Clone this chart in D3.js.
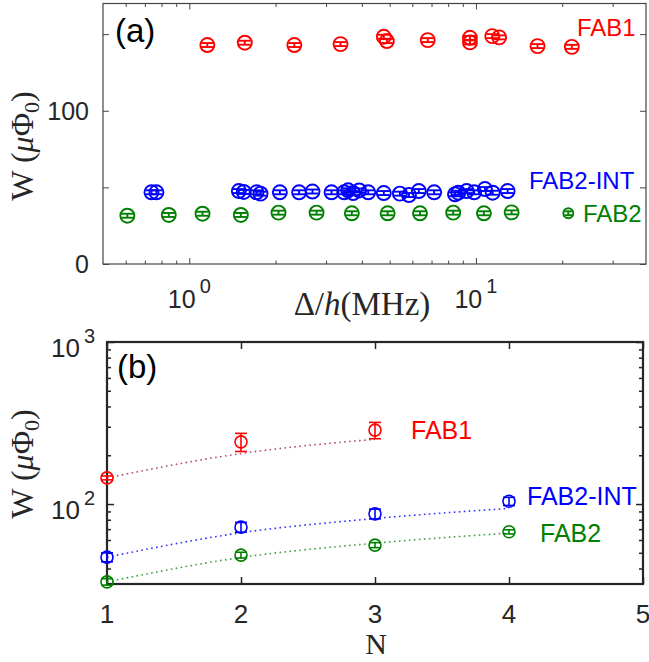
<!DOCTYPE html>
<html>
<head>
<meta charset="utf-8">
<script src="https://cdn.jsdelivr.net/npm/d3@7"></script>
<style>
  body { margin: 0; background: #fff; }
  svg { display: block; }
  .sans { font-family: "Liberation Sans", Arial, Helvetica, sans-serif; }
  .serif { font-family: "Liberation Serif", "Times New Roman", serif; }
</style>
</head>
<body>
<svg id="chart" width="649" height="662"></svg>
<script>
// ---- panel (a): W vs Delta/h ----
const aFab1Freq = [1.156, 1.562, 2.325, 3.37, 4.77, 4.89, 6.79, 9.53, 9.53, 11.4, 12.05, 16.4, 21.6];
const aFab1W    = [142.9, 144.4, 142.9, 143.5, 148.3, 145.5, 146.1, 147.6, 144.6, 148.7, 147.9, 142.2, 141.7];

const aIntFreq = [0.738, 0.768, 1.489, 1.549, 1.717, 1.772, 2.07, 2.416, 2.69, 3.135, 3.47, 3.584, 3.73, 3.914,
                  4.21, 4.77, 5.43, 5.84, 6.32, 7.15, 8.45, 8.68, 9.28, 9.86, 10.75, 11.44, 12.9];
const aIntW    = [46.8, 46.8, 47.6, 47.0, 46.8, 45.9, 46.8, 46.8, 47.3, 46.8, 46.8, 48.1, 46.3, 48.0,
                  46.8, 46.3, 45.9, 45.0, 47.6, 46.8, 45.5, 46.5, 47.6, 46.8, 48.9, 46.5, 47.6];

const aFab2Freq = [0.608, 0.848, 1.112, 1.513, 2.048, 2.78, 3.69, 4.92, 6.38, 8.33, 10.66, 13.32, 21.0];
const aFab2W    = [31.5, 32.0, 32.8, 32.0, 33.5, 33.5, 33.1, 33.1, 33.1, 33.5, 33.1, 33.7, 33.1];
const aErr = 1.3;

const aYTicks = [0, 50, 100, 150];
const aYLabels = [0, 100];
const aXMajor = [1, 10];
const aXMinor = [0.6, 0.7, 0.8, 0.9, 2, 3, 4, 5, 6, 7, 8, 9, 20, 30];

// ---- panel (b): W vs N ----
const nValues = [1, 2, 3, 4];
const bFab1W   = [145, 242, 286];
const bFab1Err = [4, 31, 33];
const bFab1Fit = [145, 205, 251];
const bIntW    = [47, 72, 87, 104];
const bIntErr  = [3, 5, 6, 6];
const bIntFit  = [47, 66.5, 81.4, 94];
const bFab2W   = [33.1, 48.4, 55.8, 67.4];
const bFab2Err = [1.5, 2, 2, 2];
const bFab2Fit = [33.1, 46.8, 57.3, 66.2];

const bXTicks = [1, 2, 3, 4, 5];
const bYMajor = [100, 1000];
const bYMinor = [40, 50, 60, 70, 80, 90, 200, 300, 400, 500, 600, 700, 800, 900];

const RED = "#ff0000", BLUE = "#0000ff", GREEN = "#008000";
const AXIS = "#262626";

const svg = d3.select("#chart");

// ===== panel (a) =====
const xA = d3.scaleLog().domain([0.5, 39.2]).range([103, 646]);
const yA = d3.scaleLinear().domain([0, 170]).range([264, 3.5]);
const gA = svg.append("g");

function tickAxis(g, axis, transform, color, width) {
  const a = g.append("g").attr("transform", transform).call(axis);
  a.selectAll("text").remove();
  a.select(".domain").remove();
  a.selectAll("line").attr("stroke", color).attr("stroke-width", width);
  return a;
}

// inward ticks, bottom and top
tickAxis(gA, d3.axisBottom(xA).tickValues(aXMajor).tickSizeInner(-6).tickSizeOuter(0), "translate(0,264)", "#444", 1);
tickAxis(gA, d3.axisBottom(xA).tickValues(aXMinor).tickSizeInner(-3.5).tickSizeOuter(0), "translate(0,264)", "#444", 1);
tickAxis(gA, d3.axisTop(xA).tickValues(aXMajor).tickSizeInner(-6).tickSizeOuter(0), "translate(0,3.5)", "#444", 1);
tickAxis(gA, d3.axisTop(xA).tickValues(aXMinor).tickSizeInner(-3.5).tickSizeOuter(0), "translate(0,3.5)", "#444", 1);
tickAxis(gA, d3.axisLeft(yA).tickValues(aYTicks).tickSizeInner(-6).tickSizeOuter(0), "translate(103,0)", "#444", 1);
tickAxis(gA, d3.axisRight(yA).tickValues(aYTicks).tickSizeInner(-6).tickSizeOuter(0), "translate(646,0)", "#444", 1);

gA.append("rect")
  .attr("x", xA.range()[0]).attr("y", yA.range()[1])
  .attr("width", xA.range()[1] - xA.range()[0])
  .attr("height", yA.range()[0] - yA.range()[1])
  .attr("fill", "none").attr("stroke", "#444").attr("stroke-width", 1.2);

// y tick labels
gA.selectAll(".ylab").data(aYLabels).enter().append("text")
  .attr("class", "sans")
  .attr("x", 89).attr("y", d => yA(d)).attr("dy", "0.36em")
  .attr("text-anchor", "end").attr("font-size", 25).attr("fill", AXIS)
  .text(d => d);

// x tick labels 10^n
aXMajor.forEach(v => {
  const t = gA.append("text").attr("class", "sans")
    .attr("x", xA(v)).attr("y", 308).attr("text-anchor", "middle")
    .attr("font-size", 25).attr("fill", AXIS);
  t.append("tspan").text("10");
  t.append("tspan").attr("dx", 4).attr("dy", -15).attr("font-size", 20).text(Math.round(Math.log10(v)));
});

// x axis label
{
  const t = gA.append("text").attr("class", "serif")
    .attr("x", 362).attr("y", 315).attr("text-anchor", "middle")
    .attr("font-size", 33).attr("fill", AXIS);
  t.append("tspan").text("\u0394/");
  t.append("tspan").attr("font-style", "italic").text("h");
  t.append("tspan").text("(MHz)");
}

function yLabel(g, cx, cy) {
  const t = g.append("text").attr("class", "serif")
    .attr("transform", `translate(${cx},${cy}) rotate(-90)`)
    .attr("text-anchor", "middle").attr("font-size", 32).attr("fill", AXIS);
  t.append("tspan").text("W (");
  t.append("tspan").attr("font-style", "italic").text("\u03bc");
  t.append("tspan").text("\u03a6");
  t.append("tspan").attr("font-size", 22).attr("dy", 6).text("0");
  t.append("tspan").attr("dy", -6).text(")");
}
yLabel(gA, 33, 146);

function drawSeriesA(xs, ys, color, smallLast) {
  const pts = xs.map((x, i) => ({ x, y: ys[i], small: smallLast && i === xs.length - 1 }));
  const g = gA.append("g").attr("stroke", color).attr("fill", "none").attr("stroke-width", 1.9);
  pts.forEach(p => {
    const cx = xA(p.x), r = p.small ? 5 : 7, cw = p.small ? 4 : 6;
    g.append("circle").attr("cx", cx).attr("cy", yA(p.y)).attr("r", r);
    g.append("line").attr("x1", cx).attr("x2", cx).attr("y1", yA(p.y - aErr)).attr("y2", yA(p.y + aErr));
    g.append("line").attr("x1", cx - cw).attr("x2", cx + cw).attr("y1", yA(p.y - aErr)).attr("y2", yA(p.y - aErr));
    g.append("line").attr("x1", cx - cw).attr("x2", cx + cw).attr("y1", yA(p.y + aErr)).attr("y2", yA(p.y + aErr));
  });
}
drawSeriesA(aFab1Freq, aFab1W, RED, false);
drawSeriesA(aIntFreq, aIntW, BLUE, false);
drawSeriesA(aFab2Freq, aFab2W, GREEN, true);

gA.append("text").attr("class", "sans").attr("x", 115).attr("y", 42)
  .attr("font-size", 33).attr("fill", "#000").text("(a)");
gA.append("text").attr("class", "sans").attr("x", 577).attr("y", 36)
  .attr("font-size", 24).attr("fill", RED).text("FAB1");
gA.append("text").attr("class", "sans").attr("x", 529).attr("y", 189)
  .attr("font-size", 24).attr("fill", BLUE).text("FAB2-INT");
gA.append("text").attr("class", "sans").attr("x", 583).attr("y", 221.5)
  .attr("font-size", 24).attr("fill", GREEN).text("FAB2");

// ===== panel (b) =====
const xB = d3.scaleLinear().domain([1, 5]).range([107, 643]);
const yB = d3.scaleLog().domain([32.1, 1000]).range([584, 342]);
const gB = svg.append("g");

tickAxis(gB, d3.axisBottom(xB).tickValues(bXTicks).tickSizeInner(-7).tickSizeOuter(0), "translate(0,584)", AXIS, 1.5);
tickAxis(gB, d3.axisTop(xB).tickValues(bXTicks).tickSizeInner(-7).tickSizeOuter(0), "translate(0,342)", AXIS, 1.5);
tickAxis(gB, d3.axisLeft(yB).tickValues(bYMajor).tickSizeInner(-7).tickSizeOuter(0), "translate(107,0)", AXIS, 1.5);
tickAxis(gB, d3.axisLeft(yB).tickValues(bYMinor).tickSizeInner(-4).tickSizeOuter(0), "translate(107,0)", AXIS, 1.5);
tickAxis(gB, d3.axisRight(yB).tickValues(bYMajor).tickSizeInner(-7).tickSizeOuter(0), "translate(643,0)", AXIS, 1.5);
tickAxis(gB, d3.axisRight(yB).tickValues(bYMinor).tickSizeInner(-4).tickSizeOuter(0), "translate(643,0)", AXIS, 1.5);

gB.append("rect")
  .attr("x", xB.range()[0]).attr("y", yB.range()[1])
  .attr("width", xB.range()[1] - xB.range()[0])
  .attr("height", yB.range()[0] - yB.range()[1])
  .attr("fill", "none").attr("stroke", AXIS).attr("stroke-width", 2.2);

gB.selectAll(".xlab").data(bXTicks).enter().append("text")
  .attr("class", "sans")
  .attr("x", d => xB(d)).attr("y", 623).attr("text-anchor", "middle")
  .attr("font-size", 26).attr("fill", AXIS).text(d => d);

bYMajor.forEach(v => {
  const t = gB.append("text").attr("class", "sans")
    .attr("x", 95).attr("y", yB(v) + 14.5).attr("text-anchor", "end")
    .attr("font-size", 26).attr("fill", AXIS);
  t.append("tspan").text("10");
  t.append("tspan").attr("dx", 4).attr("dy", -14).attr("font-size", 20).text(Math.round(Math.log10(v)));
});

gB.append("text").attr("class", "serif").attr("x", 376).attr("y", 654)
  .attr("text-anchor", "middle").attr("font-size", 30).attr("fill", AXIS).text("N");
yLabel(gB, 33, 464);

const fitLine = d3.line().x(d => xB(d.n)).y(d => yB(d.w)).curve(d3.curveMonotoneX);
function drawSeriesB(ws, errs, fits, color, fitColor) {
  const fitPts = fits.map((w, i) => ({ n: nValues[i], w }));
  gB.append("path").datum(fitPts).attr("d", fitLine)
    .attr("fill", "none").attr("stroke", fitColor).attr("stroke-width", 1.6)
    .attr("stroke-dasharray", "1.6,3.4");
  const g = gB.append("g").attr("stroke", color).attr("fill", "none").attr("stroke-width", 1.6);
  ws.forEach((w, i) => {
    const cx = xB(nValues[i]), cy = yB(w);
    const lo = yB(w - errs[i]), hi = yB(w + errs[i]);
    g.append("circle").attr("cx", cx).attr("cy", cy).attr("r", 6);
    g.append("line").attr("x1", cx).attr("x2", cx).attr("y1", lo).attr("y2", hi);
    g.append("line").attr("x1", cx - 6).attr("x2", cx + 6).attr("y1", lo).attr("y2", lo);
    g.append("line").attr("x1", cx - 6).attr("x2", cx + 6).attr("y1", hi).attr("y2", hi);
  });
}
drawSeriesB(bFab1W, bFab1Err, bFab1Fit, RED, "#b0506e");
drawSeriesB(bIntW, bIntErr, bIntFit, BLUE, "#3030ff");
drawSeriesB(bFab2W, bFab2Err, bFab2Fit, GREEN, "#40a040");

gB.append("text").attr("class", "sans").attr("x", 117).attr("y", 378)
  .attr("font-size", 33).attr("fill", "#000").text("(b)");
gB.append("text").attr("class", "sans").attr("x", 411).attr("y", 439)
  .attr("font-size", 25).attr("fill", RED).text("FAB1");
gB.append("text").attr("class", "sans").attr("x", 527).attr("y", 505)
  .attr("font-size", 25).attr("fill", BLUE).text("FAB2-INT");
gB.append("text").attr("class", "sans").attr("x", 540).attr("y", 541.5)
  .attr("font-size", 25).attr("fill", GREEN).text("FAB2");
</script>
</body>
</html>
